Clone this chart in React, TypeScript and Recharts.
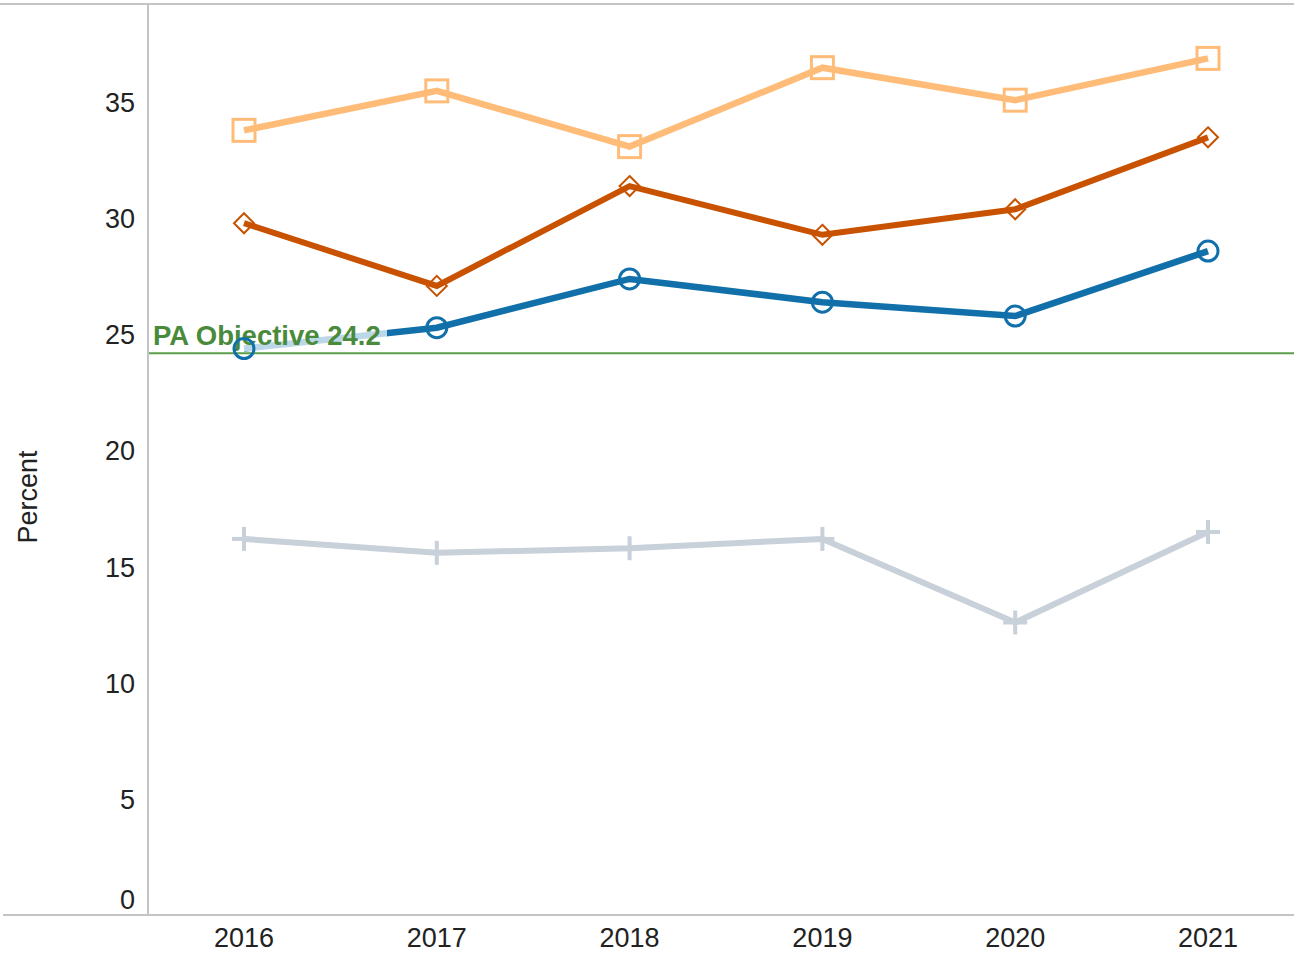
import React from 'react';
import { LineChart, Line, XAxis, YAxis, ReferenceLine } from 'recharts';

const years = ['2016', '2017', '2018', '2019', '2020', '2021'];
const lightOrange = [33.8, 35.5, 33.1, 36.5, 35.1, 36.9];
const darkOrange = [29.8, 27.1, 31.4, 29.3, 30.4, 33.5];
const blue = [24.4, 25.3, 27.4, 26.4, 25.8, 28.6];
const gray = [16.2, 15.6, 15.8, 16.2, 12.6, 16.5];
const yTicks = [0, 5, 10, 15, 20, 25, 30, 35];
const objective = 24.2;

const data = years.map((year, i) => ({
  year,
  lightOrange: lightOrange[i],
  darkOrange: darkOrange[i],
  blue: blue[i],
  gray: gray[i],
}));

const FONT = '"Liberation Sans", Arial, Helvetica, sans-serif';

const SquareDot = (props: any) => {
  const { cx, cy } = props;
  return <rect x={cx - 11} y={cy - 11} width={22} height={22} fill="none" stroke="#ffbc79" strokeWidth={3} />;
};

const DiamondDot = (props: any) => {
  const { cx, cy } = props;
  const r = 10;
  return (
    <polygon
      points={`${cx},${cy - r} ${cx + r},${cy} ${cx},${cy + r} ${cx - r},${cy}`}
      fill="none"
      stroke="#c85200"
      strokeWidth={2}
    />
  );
};

const CircleDot = (props: any) => {
  const { cx, cy } = props;
  return <circle cx={cx} cy={cy} r={10} fill="none" stroke="#1170aa" strokeWidth={3} />;
};

const PlusDot = (props: any) => {
  const { cx, cy } = props;
  return (
    <g stroke="#c8d0d9" strokeWidth={4}>
      <line x1={cx - 12} y1={cy} x2={cx + 12} y2={cy} />
      <line x1={cx} y1={cy - 12} x2={cx} y2={cy + 12} />
    </g>
  );
};

const YTick = (props: any) => {
  const { y, payload } = props;
  const shift = payload.value === 0 ? -16 : 0;
  return (
    <text x={135} y={y + shift} dy="0.36em" textAnchor="end" fill="#222" fontSize={27} fontFamily={FONT}>
      {payload.value}
    </text>
  );
};

const XTick = (props: any) => {
  const { x, y, payload } = props;
  return (
    <text x={x} y={y} dy={24} textAnchor="middle" fill="#222" fontSize={27} fontFamily={FONT}>
      {payload.value}
    </text>
  );
};

const ObjectiveLabel = (props: any) => {
  const { viewBox } = props;
  const x = viewBox.x + 5;
  const y = viewBox.y;
  return (
    <g>
      <rect x={x - 2} y={y - 32} width={236} height={30} fill="#fff" fillOpacity={0.72} />
      <text x={x} y={y - 8} fill="#4a8a3b" fontSize={27.5} fontWeight="bold" fontFamily={FONT}>
        PA Objective {objective}
      </text>
    </g>
  );
};

const PercentLabel = () => (
  <text
    x={37}
    y={497}
    transform="rotate(-90 37 497)"
    textAnchor="middle"
    fill="#222"
    fontSize={27}
    fontFamily={FONT}
  >
    Percent
  </text>
);

export default function App() {
  return (
    <div style={{ position: 'absolute', left: 0, top: 0, width: 1294, height: 954, background: '#fff' }}>
      <div style={{ position: 'absolute', left: 0, top: 3, width: 1294, height: 2, background: '#c4c4c4' }} />
      <div style={{ position: 'absolute', left: 3, top: 914, width: 1291, height: 2, background: '#c4c4c4' }} />
      <LineChart width={1294} height={954} data={data} margin={{ top: 5, right: 0, bottom: 0, left: 0 }}>
        <XAxis
          dataKey="year"
          scale="point"
          padding={{ left: 96, right: 86 }}
          axisLine={false}
          tickLine={false}
          height={39}
          tick={<XTick />}
        />
        <YAxis
          width={148}
          domain={[0, 39.2]}
          ticks={yTicks}
          axisLine={{ stroke: '#c4c4c4', strokeWidth: 2 }}
          tickLine={false}
          tick={<YTick />}
          label={<PercentLabel />}
        />
        <Line dataKey="gray" stroke="#c8d0d9" strokeWidth={6} dot={<PlusDot />} isAnimationActive={false} />
        <Line dataKey="blue" stroke="#1170aa" strokeWidth={6.5} dot={<CircleDot />} isAnimationActive={false} />
        <Line dataKey="darkOrange" stroke="#c85200" strokeWidth={6} dot={<DiamondDot />} isAnimationActive={false} />
        <Line dataKey="lightOrange" stroke="#ffbc79" strokeWidth={6.5} dot={<SquareDot />} isAnimationActive={false} />
        <ReferenceLine y={objective} stroke="#5a9e4a" strokeWidth={2} label={<ObjectiveLabel />} />
      </LineChart>
    </div>
  );
}
